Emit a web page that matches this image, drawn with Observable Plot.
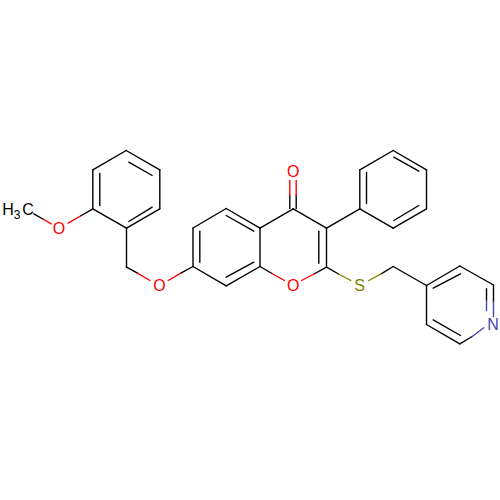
<!DOCTYPE html>
<html>
<head>
<meta charset="utf-8">
<style>html,body{margin:0;padding:0;background:#fff}svg{display:block}</style>
<script src="https://cdn.jsdelivr.net/npm/d3@7"></script>
<script src="https://cdn.jsdelivr.net/npm/@observablehq/plot@0.6"></script>
</head>
<body>
<div id="chart"></div>
<script>
// Bond segments: from-x, from-y, to-x, to-y, element colour
const carbonBonds = [
  // methoxyphenyl ring
  [125.7,150,159.3,169.3],[159.3,169.3,159.3,208.3],[159.3,208.3,126,227.7],[126,227.7,92.3,208.3],[92.3,208.3,92.3,169.3],[92.3,169.3,125.7,150],
  [99.3,173,99.3,205],[128.3,161.7,151.7,175],[128.3,221,151.7,206.7],
  // methyl and benzyl CH2
  [33.3,213.3,43.3,219],[92.3,208.3,80,215.5],[126,227.7,126,266.7],[126,266.7,137,272.7],[192.5,266,180.3,272.7],
  // benzo ring
  [192.5,266,192.5,227.5],[192.5,227.5,225.7,208],[225.7,208,259.5,227.7],[259.5,227.7,259.5,266],[259.5,266,225.7,285.3],[225.7,285.3,192.5,266],
  [199.3,230.7,199.3,261.7],[225.7,215,253.3,230.7],[225.7,276.7,253.3,261.7],
  // pyranone ring
  [259.5,227.7,292.7,208.3],[292.7,208.3,326,227.7],[326,227.7,326,266.7],[259.5,266,271.5,273],[326,266.7,313.5,273.5],
  [318.3,230.7,318.3,262.7],[289.3,208,289.3,195],[295.7,208,295.7,195],
  // phenyl
  [326,227.7,359.3,208.3],[359.3,208.3,359.3,169.3],[359.3,169.3,392.7,150],[392.7,150,426,169.3],[426,169.3,426,208.3],[426,208.3,392.7,227.7],[392.7,227.7,359.3,208.3],
  [366,172,366,203],[393.3,156.7,418.3,170.7],[393.3,220,418.3,205],
  // thio CH2 and pyridine
  [326,266.7,338,273.5],[380.7,273.3,392.7,266],[392.7,266,426,285],[426,285,459.3,265.5],[459.3,265.5,493,284.5],[426,285,426,324],[426,324,459.3,343.3],
  [432.7,287.7,460,273.3],[432.7,319.3,460,335],[493,284.5,493,301],[486,288.3,486,300],[459.3,343.3,471.7,336]
];
const oxygenBonds = [
  [43.3,219,50.7,223.3],[67.7,222.7,80,215.5],
  [137,272.7,149.3,280],[167.7,280,180.3,272.7],
  [271.5,273,284,280],[301,280,313.5,273.5],
  [289.3,195,289.3,180],[295.7,195,295.7,180]
];
const sulfurBonds = [[338,273.5,350.3,280],[368.3,280,380.7,273.3]];
const nitrogenBonds = [[493,301,493,316],[486,300,486,310],[471.7,336,483.3,327.3]];

const atomLabels = ["H","3","C","O","O","O","O","S","N"];
const atomX = [7.5,16.7,27.5,58.5,159,292.7,292.7,359,492.5];
const atomY = [209,215,209,228,285,285,171,285,324];
const atomKinds = ["C","C","C","O","O","O","O","S","N"];
const atomSizes = [16,12,16,16,16,16,16,16,16];

const elementKinds = ["C","O","S","N"];
const elementColors = ["#000000","#ff0000","#7f7f00","#4545b5"];

const bondTable = [
  ...carbonBonds.map(b => ({b, kind:"C"})),
  ...oxygenBonds.map(b => ({b, kind:"O"})),
  ...sulfurBonds.map(b => ({b, kind:"S"})),
  ...nitrogenBonds.map(b => ({b, kind:"N"}))
];
const labelTable = atomLabels.map((label,i) => ({label, x:atomX[i], y:atomY[i], kind:atomKinds[i], size:atomSizes[i]}));

const makeLabels = (subset) => Plot.text(subset,{
  x:"x", y:"y", text:"label", fill:"kind",
  fontSize:subset[0].size, fontFamily:"Liberation Sans", textAnchor:"middle", lineAnchor:"middle"
});

const chart = Plot.plot({
  width:500, height:500, margin:0,
  x:{domain:[0,500], range:[0,500], axis:null},
  y:{domain:[0,500], range:[0,500], axis:null},
  color:{domain:elementKinds, range:elementColors},
  marks:[
    Plot.link(bondTable,{
      x1:d=>d.b[0], y1:d=>d.b[1], x2:d=>d.b[2], y2:d=>d.b[3],
      stroke:"kind", strokeWidth:1.4, strokeLinecap:"round", curve:"linear"
    }),
    makeLabels(labelTable.filter(d => d.size === 16)),
    makeLabels(labelTable.filter(d => d.size === 12))
  ]
});
document.getElementById("chart").appendChild(chart);
</script>
</body>
</html>
